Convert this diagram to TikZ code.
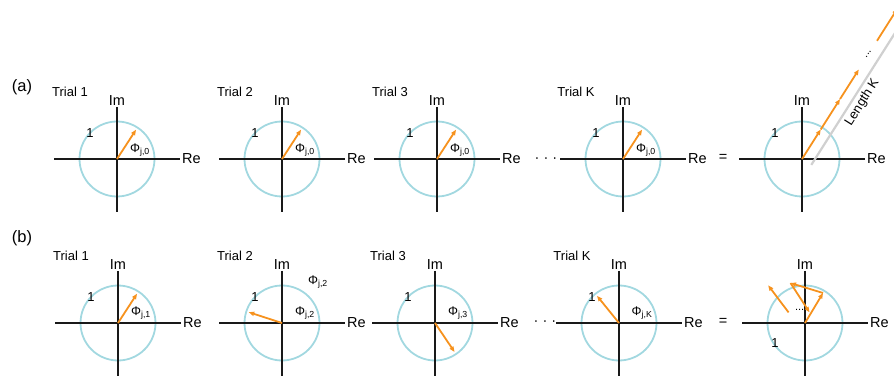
\documentclass[tikz,border=0pt]{standalone}
\usepackage{fontspec}
\setmainfont{Liberation Sans}
\usetikzlibrary{arrows.meta, positioning}
\definecolor{circblue}{RGB}{162,216,224}
\definecolor{phasor}{RGB}{246,146,30}
\definecolor{lengthgray}{RGB}{208,208,208}

\begin{document}
\begin{tikzpicture}[x=1pt, y=1pt, >={Triangle[length=5.5pt, width=4.2pt]},
    axis/.style={line width=2.2pt, black!90},
    unitcirc/.style={draw=circblue, line width=1.8pt},
    phasorarr/.style={->, draw=phasor, line width=1.8pt},
    axlabel/.style={font=\fontsize{14.5}{15}\selectfont, inner sep=1pt},
    triallabel/.style={font=\fontsize{13}{14}\selectfont, inner sep=1pt},
    anglelabel/.style={font=\fontsize{12.5}{13}\selectfont, inner sep=0pt},
    unitlabel/.style={font=\fontsize{13}{14}\selectfont, inner sep=0pt}]
        \useasboundingbox (0,0) rectangle (894,375);
        \clip (0,0) rectangle (894,375);
        % one complex plane per trial
        \foreach \p/\px/\py in {a1/117/216, a2/282/216, a3/437/216, aK/623/216, aS/802/216,
                                b1/118/52, b2/282/52, b3/435/52, bK/619/52, bS/805/52} {
          \coordinate (\p) at (\px,\py);
          \coordinate (\p-w) at (\px-63,\py);
          \coordinate (\p-e) at (\px+63,\py);
          \coordinate (\p-n) at (\px,\py+52);
          \coordinate (\p-s) at (\px,\py-53);
          \draw[unitcirc] (\p) circle[radius=37.5];
          \draw[axis] (\p-w) -- (\p-e);
          \draw[axis] (\p-n) -- (\p-s);
          \node (\p-im) [axlabel, above=0pt of \p-n] {Im};
          \node (\p-re) [axlabel, right=1pt of \p-e] {Re};
        }
        \foreach \p in {a1, a2, a3, aK, aS, b1, b2, b3, bK}
          \node (\p-one) [unitlabel] at ([shift={(-27,26)}]\p) {1};
        \node (bS-one) [unitlabel] at ([shift={(-30,-20)}]bS) {1};
        \foreach \p/\t in {a1/1, a2/2, a3/3, aK/K, b1/1, b2/2, b3/3, bK/K}
          \node (\p-title) [triallabel] at ([shift={(-47,67)}]\p) {Trial \t};
        \node (tag-a) [font=\fontsize{16.5}{17}\selectfont] at (22,288) {(a)};
        \node (tag-b) [font=\fontsize{16.5}{17}\selectfont] at (22,137) {(b)};
        \node (dots-a) [axlabel] at (546,215) {· · ·};
        \node (dots-b) [axlabel] at (545,52) {· · ·};
        \node (eq-a) [axlabel] at (723,217) {=};
        \node (eq-b) [axlabel] at (723,53) {=};

        % (a) same phase in every trial
        \foreach \p in {a1, a2, a3, aK} {
          \coordinate (\p-tip) at ([shift={(57:35)}]\p);
          \draw[phasorarr] (\p) -- (\p-tip);
          \node (\p-phi) [anglelabel] at ([shift={(23,9)}]\p) {Φ\textsubscript{j,0}};
        }
        \coordinate (aS-k1) at ([shift={(57.6:35)}]aS);
        \coordinate (aS-k2) at ([shift={(57.6:71)}]aS);
        \coordinate (aS-k3) at ([shift={(57.6:106)}]aS);
        \coordinate (aS-k4) at ([shift={(57.6:140)}]aS);
        \coordinate (aS-k5) at ([shift={(57.6:178)}]aS);
        \draw[phasorarr] (aS) -- (aS-k1);
        \draw[phasorarr] (aS-k1) -- (aS-k2);
        \draw[phasorarr] (aS-k2) -- (aS-k3);
        \draw[phasorarr] (aS-k4) -- (aS-k5);
        \node (aS-dots) [rotate=57.6, inner sep=0pt, font=\fontsize{11}{12}\selectfont] at ([shift={(57.6:124)}]aS) {...};
        \coordinate (aS-g0) at ([shift={(-32.4:11)}]aS);
        \coordinate (aS-g1) at ([shift={(57.6:200)}]aS-g0);
        \draw[lengthgray, line width=2.2pt] (aS-g0) -- (aS-g1)
          node (aS-len) [pos=0.40, sloped, below, inner sep=2.5pt, font=\fontsize{13}{14}\selectfont, black] {Length K};

        % (b) random phase in every trial
        \foreach \p/\a/\s in {b1/57/1, b2/162/2, b3/-56/3, bK/129/K} {
          \coordinate (\p-tip) at ([shift={(\a:35)}]\p);
          \draw[phasorarr] (\p) -- (\p-tip);
          \node (\p-phi) [anglelabel] at ([shift={(23,10)}]\p) {Φ\textsubscript{j,\s}};
        }
        \node (b2-phix) [anglelabel] at ([shift={(36,41)}]b2) {Φ\textsubscript{j,2}};
        \coordinate (bS-t1) at ([shift={(59:35)}]bS);
        \coordinate (bS-t2) at ([shift={(163:34)}]bS-t1);
        \coordinate (bS-t3) at ([shift={(-57:35)}]bS-t2);
        \coordinate (bS-t4) at ([shift={(-21,0)}]bS-t3);
        \coordinate (bS-t5) at ([shift={(127:34)}]bS-t4);
        \draw[phasorarr] (bS) -- (bS-t1);
        \draw[phasorarr] (bS-t1) -- (bS-t2);
        \draw[phasorarr] (bS-t2) -- (bS-t3);
        \draw[phasorarr] (bS-t4) -- (bS-t5);
        \node (bS-dots) [font=\fontsize{11}{12}\selectfont, inner sep=0pt] at ([shift={(-10,3)}]bS-t3) {...};
      \end{tikzpicture}
\end{document}
